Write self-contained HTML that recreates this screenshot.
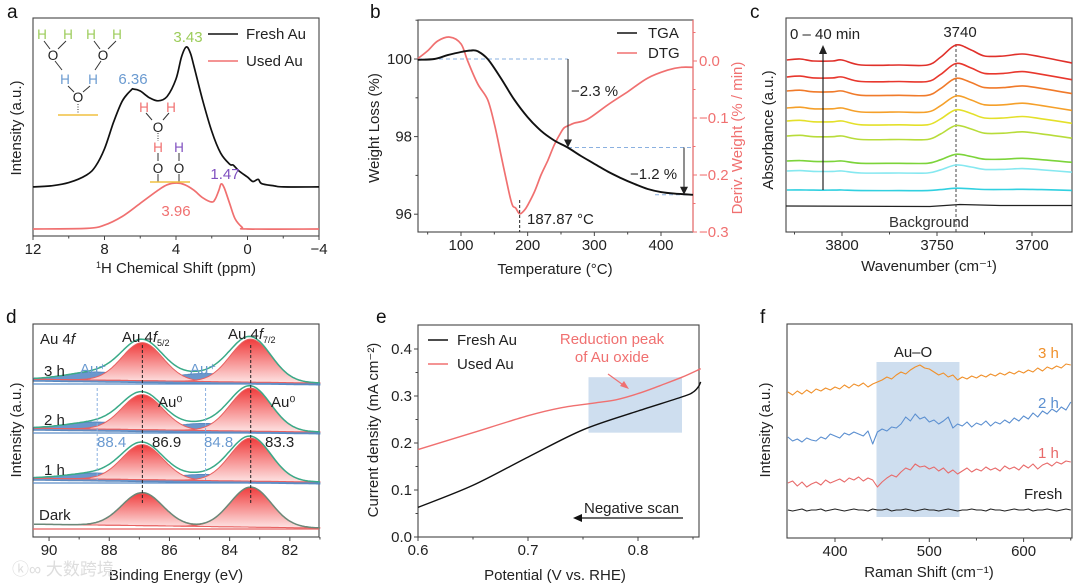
<!DOCTYPE html>
<html><head><meta charset="utf-8"><style>
html,body{margin:0;padding:0;background:#fff;}
svg{display:block;font-family:"Liberation Sans","Noto Sans CJK SC",sans-serif;}
</style></head><body>
<svg id="fig" width="1080" height="587" viewBox="0 0 1080 587" xmlns="http://www.w3.org/2000/svg">
<defs>
<linearGradient id="redgrad" x1="0" y1="0" x2="0" y2="1"><stop offset="0" stop-color="#f03c3c"/><stop offset="1" stop-color="#fde4e4"/></linearGradient>
</defs>
<rect width="1080" height="587" fill="#fff"/>
<g font-size="19" fill="#111">
<text x="7" y="18">a</text>
<text x="370" y="18">b</text>
<text x="750" y="18">c</text>
<text x="6" y="323">d</text>
<text x="376" y="323">e</text>
<text x="760" y="323">f</text>
</g>
<g font-size="15" fill="#222" text-anchor="middle">
<text x="176" y="273"><tspan font-size="9" dy="-5">1</tspan><tspan dy="5">H Chemical Shift (ppm)</tspan></text>
<text transform="translate(21,128) rotate(-90)">Intensity (a.u.)</text>
<text x="555" y="274">Temperature (°C)</text>
<text transform="translate(379,128) rotate(-90)">Weight Loss (%)</text>
<text transform="translate(742,138) rotate(-90)" fill="#f07070">Deriv. Weight (% / min)</text>
<text x="929" y="271">Wavenumber (cm⁻¹)</text>
<text transform="translate(773,130) rotate(-90)">Absorbance (a.u.)</text>
<text x="176" y="580">Binding Energy (eV)</text>
<text transform="translate(21,430) rotate(-90)">Intensity (a.u.)</text>
<text x="555" y="580">Potential (V vs. RHE)</text>
<text transform="translate(378,430) rotate(-90)">Current density (mA cm⁻²)</text>
<text x="929" y="577">Raman Shift (cm⁻¹)</text>
<text transform="translate(770,430) rotate(-90)">Intensity (a.u.)</text>
</g>
<g id="plots"></g>
<g font-size="15">
<line x1="208" y1="34" x2="238" y2="34" stroke="#111" stroke-width="1.6"/>
<text x="246" y="39" fill="#222">Fresh Au</text>
<line x1="208" y1="61" x2="238" y2="61" stroke="#f07070" stroke-width="1.6"/>
<text x="246" y="66" fill="#222">Used Au</text>
<text x="188" y="42" fill="#9ccc5a" text-anchor="middle">3.43</text>
<text x="133" y="84" fill="#6a9ad0" text-anchor="middle">6.36</text>
<text x="176" y="216" fill="#f07070" text-anchor="middle">3.96</text>
<text x="225" y="179" fill="#8050c0" text-anchor="middle">1.47</text>
</g>
<g font-size="13.5" text-anchor="middle">
<g stroke="#333" stroke-width="1">
<line x1="44" y1="41" x2="50" y2="49"/><line x1="66" y1="41" x2="58" y2="49"/>
<line x1="94" y1="41" x2="100" y2="49"/><line x1="116" y1="41" x2="108" y2="49"/>
<line x1="55" y1="61" x2="62" y2="70"/><line x1="101" y1="61" x2="95" y2="70"/>
<line x1="68" y1="86" x2="74" y2="92"/><line x1="90" y1="86" x2="83" y2="92"/>
<line x1="78" y1="104" x2="78" y2="113" stroke-dasharray="1,1.5"/>
</g>
<line x1="58" y1="115" x2="98" y2="115" stroke="#f0c040" stroke-width="1.5"/>
<text x="42" y="39" fill="#9ccc5a">H</text><text x="68" y="39" fill="#9ccc5a">H</text>
<text x="91" y="39" fill="#9ccc5a">H</text><text x="117" y="39" fill="#9ccc5a">H</text>
<text x="53" y="60" fill="#222">O</text><text x="103" y="60" fill="#222">O</text>
<text x="65" y="84" fill="#6a9ad0">H</text><text x="93" y="84" fill="#6a9ad0">H</text>
<text x="78" y="102" fill="#222">O</text>
</g>
<g font-size="13.5" text-anchor="middle">
<g stroke="#333" stroke-width="1">
<line x1="146" y1="113" x2="152" y2="120"/><line x1="169" y1="113" x2="163" y2="120"/>
<line x1="158" y1="133" x2="158" y2="141" stroke-dasharray="1,1.5"/>
<line x1="158" y1="153" x2="158" y2="161"/><line x1="179" y1="153" x2="179" y2="161"/>
<line x1="158" y1="174" x2="158" y2="182"/><line x1="179" y1="174" x2="179" y2="182"/>
</g>
<line x1="150" y1="182" x2="190" y2="182" stroke="#f0c040" stroke-width="1.5"/>
<text x="144" y="112" fill="#f07070">H</text><text x="171" y="112" fill="#f07070">H</text>
<text x="158" y="132" fill="#222">O</text>
<text x="158" y="152" fill="#f07070">H</text><text x="179" y="152" fill="#8050c0">H</text>
<text x="158" y="173" fill="#222">O</text><text x="179" y="173" fill="#222">O</text>
</g>
<g font-size="15" fill="#222">
<line x1="617" y1="33" x2="637" y2="33" stroke="#111" stroke-width="1.6"/>
<text x="648" y="38">TGA</text>
<line x1="617" y1="53" x2="637" y2="53" stroke="#f07070" stroke-width="1.6"/>
<text x="648" y="58">DTG</text>
<text x="571" y="96">−2.3 %</text>
<text x="630" y="179">−1.2 %</text>
<text x="527" y="224">187.87 °C</text>
</g>
<g font-size="15" fill="#222">
<text x="790" y="39">0 – 40 min</text>
<text x="960" y="37" text-anchor="middle">3740</text>
<text x="929" y="227" text-anchor="middle" fill="#333">Background</text>
</g>
<g font-size="15" fill="#222">
<text x="40" y="344">Au 4<tspan font-style="italic">f</tspan></text>
<text x="122" y="342">Au 4<tspan font-style="italic">f</tspan><tspan font-size="9" dy="4">5/2</tspan></text>
<text x="228" y="339">Au 4<tspan font-style="italic">f</tspan><tspan font-size="9" dy="4">7/2</tspan></text>
<text x="44" y="376">3 h</text>
<text x="44" y="425">2 h</text>
<text x="44" y="475">1 h</text>
<text x="39" y="520">Dark</text>
<text x="80" y="374" fill="#6a9ad0">Au⁺</text>
<text x="190" y="374" fill="#6a9ad0">Au⁺</text>
<text x="158" y="407">Au⁰</text>
<text x="271" y="407">Au⁰</text>
<text x="97" y="447" fill="#6a9ad0">88.4</text>
<text x="152" y="447">86.9</text>
<text x="204" y="447" fill="#6a9ad0">84.8</text>
<text x="265" y="447">83.3</text>
</g>
<text x="12" y="575" font-size="17" fill="#ddd">ⓚ∞ 大数跨境</text>
<g font-size="15" fill="#222">
<line x1="428" y1="340" x2="448" y2="340" stroke="#111" stroke-width="1.4"/>
<text x="457" y="345">Fresh Au</text>
<line x1="428" y1="364" x2="448" y2="364" stroke="#f07070" stroke-width="1.4"/>
<text x="457" y="369">Used Au</text>
<text x="612" y="344" fill="#f07070" text-anchor="middle">Reduction peak</text>
<text x="612" y="362" fill="#f07070" text-anchor="middle">of Au oxide</text>
<line x1="608" y1="374" x2="626" y2="387" stroke="#f07070" stroke-width="1.2"/>
<polygon points="629,389 620,386 624,381" fill="#f07070"/>
<text x="584" y="513">Negative scan</text>
<line x1="683" y1="518" x2="580" y2="518" stroke="#111" stroke-width="1.2"/>
<polygon points="573,518 582,514 582,522" fill="#111"/>
</g>
<g font-size="15">
<text x="913" y="357" fill="#222" text-anchor="middle">Au–O</text>
<text x="1038" y="358" fill="#f0902a">3 h</text>
<text x="1038" y="408" fill="#5b8fd0">2 h</text>
<text x="1038" y="458" fill="#e86a6a">1 h</text>
<text x="1024" y="499" fill="#222">Fresh</text>
</g>
</svg>
<script>
// ---------- panel a data ----------
const aFreshPpm = [12,11,10,9,8.5,8,7.5,7,6.5,6.36,6,5.5,5,4.5,4,3.7,3.43,3.2,3,2.5,2,1.5,1,0.8,0.5,0,-0.3,-0.6,-0.8,-1.5,-2,-4];
const aFreshInt = [22.5,23,24.5,28,32,40,52,62,67,67.4,66.5,63.5,62,64,72,82,86.7,84,78,62,48,38,33,32.5,30,27,25,26,24,23,22.5,22.5];
const aUsedPpm = [12,9,8,7,6,5,4.5,3.96,3.5,3,2.5,2,1.8,1.6,1.47,1.3,1,0.7,0.3,0,-4];
const aUsedInt = [3.2,3.5,5,9,15,21,23.5,24.3,23.5,21,17.5,15.6,17,21,23.9,22,15,8,4,3.2,3.2];
const aTicks = [12,8,4,0,-4];
// ---------- panel b data ----------
const bTgaT = [35,60,80,100,115,125,140,160,180,200,220,240,260,280,300,320,340,360,380,400,420,448];
const bTgaW = [99.98,100.0,100.1,100.18,100.22,100.2,100.0,99.5,98.95,98.5,98.15,97.9,97.72,97.5,97.3,97.1,96.93,96.78,96.65,96.57,96.53,96.5];
const bDtgT = [35,50,65,83,100,110,125,140,150,160,170,175,178,182,188,195,200,210,220,230,240,250,255,262,270,290,320,350,380,410,430,448];
const bDtgD = [0.004,0.018,0.035,0.042,0.03,0.0,-0.04,-0.068,-0.11,-0.165,-0.22,-0.245,-0.255,-0.258,-0.268,-0.262,-0.253,-0.23,-0.2,-0.175,-0.147,-0.125,-0.117,-0.113,-0.109,-0.102,-0.077,-0.054,-0.03,-0.016,-0.011,-0.011];
const bXTicks = [100,200,300,400];
const bYTicks = [96,98,100];
const bRTicks = [0.0,-0.1,-0.2,-0.3];
// ---------- panel c data ----------
const cWave = [3829,3822,3815,3805,3800,3790,3770,3755,3748,3740,3732,3725,3715,3705,3695,3679];
const cShape = [0,1,-1,-1,0,-5,-5,-5,3,15,10,4,4,6,3,-3];
const cOffsets = [172,155,141,124,111,96,71,61,42];
const cAmps = [1.0,0.9,0.85,0.8,0.75,0.7,0.45,0.4,0.12];
const cColors = ['#e0302a','#e8372d','#f07a2a','#f5a02a','#e4e02a','#b8dc3a','#7cd43a','#86e8f0','#30d0e0'];
const cXTicks = [3800,3750,3700];
// ---------- panel d data ----------
const dAu0Centers = [86.9,83.3];
const dAuPlusCenters = [88.4,84.8];
const dOffsets = [154,105,55,9];
const dAmp52 = [38,35,35,33];
const dAmp72 = [43,43,43,40];
const dAmpPlus = [8,7,6,0];
const dXTicks = [90,88,86,84,82];
// ---------- panel e data ----------
const eFreshV = [0.6,0.65,0.7,0.75,0.8,0.84,0.85,0.855,0.857];
const eFreshJ = [0.063,0.11,0.17,0.228,0.268,0.298,0.308,0.32,0.33];
const eUsedV = [0.6,0.65,0.7,0.73,0.76,0.78,0.8,0.82,0.84,0.857];
const eUsedJ = [0.186,0.222,0.258,0.275,0.285,0.292,0.305,0.322,0.34,0.358];
const eBox = [0.755,0.84,0.222,0.34];
const eXTicks = [0.6,0.7,0.8];
const eYTicks = [0.0,0.1,0.2,0.3,0.4];
// ---------- panel f data ----------
const fShiftStart = 350, fShiftStep = 5;
const fFresh = [28,27,28,29,27,28,28,29,27,28,29,28,27,28,29,28,28,27,29,28,28,29,27,28,28,29,28,27,28,29,28,28,27,28,29,28,27,28,28,29,28,28,27,29,28,28,27,28,29,28,28,29,27,28,28,29,28,27,28,29,28];
const f1h = [55,57,52,56,51,54,56,53,58,55,57,59,56,60,58,61,57,60,58,51,56,60,63,61,66,70,68,74,71,72,69,71,67,70,65,68,64,67,70,66,69,67,71,68,70,67,72,69,71,68,73,70,74,69,73,75,72,76,74,77,76];
const f2h = [101,97,99,96,100,98,97,101,99,104,102,100,105,103,106,104,102,107,94,106,109,107,111,110,114,121,117,124,119,121,116,118,114,117,121,110,114,112,116,111,115,113,117,112,116,114,118,115,120,117,122,119,125,121,127,124,129,126,131,128,136];
const f3h = [146,143,147,144,148,145,149,147,150,148,151,149,153,150,154,152,155,151,154,156,158,161,159,163,166,164,168,171,173,170,169,166,163,165,161,163,158,161,159,162,160,163,161,164,162,165,163,166,164,167,165,168,166,170,167,171,169,172,170,174,173];
const fBox = [444,532,21,176];
const fXTicks = [400,500,600];

const NS = 'http://www.w3.org/2000/svg';
const root = document.getElementById('plots');
const FS = 15;
function mk(tag, attrs, parent){
  const el = document.createElementNS(NS, tag);
  for (const k in attrs) el.setAttribute(k, attrs[k]);
  (parent||root).appendChild(el);
  return el;
}
function pathFrom(xs, ys, sx, sy){
  return xs.map((x,i)=>(i?'L':'M')+sx(x).toFixed(1)+','+sy(ys[i]).toFixed(1)).join(' ');
}
function smoothFrom(xs, ys, sx, sy){
  const P = xs.map((x,i)=>[sx(x), sy(ys[i])]);
  let d = 'M'+P[0][0].toFixed(1)+','+P[0][1].toFixed(1);
  for (let i=0;i<P.length-1;i++){
    const p0=P[Math.max(0,i-1)], p1=P[i], p2=P[i+1], p3=P[Math.min(P.length-1,i+2)];
    const c1=[p1[0]+(p2[0]-p0[0])/6, p1[1]+(p2[1]-p0[1])/6];
    const c2=[p2[0]-(p3[0]-p1[0])/6, p2[1]-(p3[1]-p1[1])/6];
    d += ' C'+c1[0].toFixed(1)+','+c1[1].toFixed(1)+' '+c2[0].toFixed(1)+','+c2[1].toFixed(1)+' '+p2[0].toFixed(1)+','+p2[1].toFixed(1);
  }
  return d;
}
function frame(x0,y0,x1,y1,n){
  const r = mk('rect',{x:x0,y:y0,width:x1-x0,height:y1-y0,fill:'none',stroke:'#444','stroke-width':1.1});
  
  
}
function xTicks(vals, sx, y, fmt, n, minors){
  vals.forEach(v=>{
    const t = mk('line',{x1:sx(v),x2:sx(v),y1:y,y2:y+4,stroke:'#444','stroke-width':1});
    
    
    const l = mk('text',{x:sx(v),y:y+18,'text-anchor':'middle','font-size':FS,fill:'#222'});
    l.textContent = fmt(v);
    
    
  });
  (minors||[]).forEach(v=>{
    const t = mk('line',{x1:sx(v),x2:sx(v),y1:y,y2:y+2.5,stroke:'#444','stroke-width':1});
    
    
  });
}
function yTicks(vals, sy, x, fmt, n, minors, side, color){
  const d = side==='r'?1:-1;
  vals.forEach(v=>{
    const t = mk('line',{x1:x,x2:x+4*d,y1:sy(v),y2:sy(v),stroke:color||'#444','stroke-width':1});
    
    
    const l = mk('text',{x:x+6*d,y:sy(v)+5,'text-anchor':side==='r'?'start':'end','font-size':FS,fill:color||'#222'});
    l.textContent = fmt(v);
    
    
  });
  (minors||[]).forEach(v=>{
    const t = mk('line',{x1:x,x2:x+2.5*d,y1:sy(v),y2:sy(v),stroke:color||'#444','stroke-width':1});
    
    
  });
}
const neg = v => (v<0?'−'+Math.abs(v):String(v));

// ===== Panel a =====
const xA = p => 33 + (12-p)*17.875;
const yA = v => 236 - v*2.18;
frame(33,18,319,236,'frame-a');
xTicks(aTicks, xA, 236, neg, 'x-axis-a', [10,6,2,-2]);
let p = mk('path',{d:smoothFrom(aFreshPpm,aFreshInt,xA,yA),fill:'none',stroke:'#111','stroke-width':1.7,'stroke-linejoin':'round'});


p = mk('path',{d:smoothFrom(aUsedPpm,aUsedInt,xA,yA),fill:'none',stroke:'#f07070','stroke-width':1.7,'stroke-linejoin':'round'});



// ===== Panel b =====
const xB = T => 461 + (T-100)*0.6667;
const yB = w => 59 + (100-w)*38.8;
const yR = d => 61 - d*570;
frame(418,20,693,232,'frame-b');
let rl = mk('line',{x1:693,x2:693,y1:20,y2:232,stroke:'#f07070','stroke-width':1.2});


xTicks(bXTicks, xB, 232, String, 'x-axis-b', [50,150,250,350]);
yTicks(bYTicks, yB, 418, String, 'y-axis-b', [97,99,101]);
yTicks(bRTicks, yR, 693, v=>(v<0?'−':'')+Math.abs(v).toFixed(1), 'y-axis-b-right', [0.05,-0.05,-0.15,-0.25], 'r', '#f07070');
const dashB = [[418,568,yB(100)],[568,693,yB(97.72)],[655,693,yB(96.5)]];
dashB.forEach(s=>{
  const l = mk('line',{x1:s[0],x2:s[1],y1:s[2],y2:s[2],stroke:'#8ab0e0','stroke-width':1,'stroke-dasharray':'4,3'});
  
  
});
p = mk('path',{d:smoothFrom(bDtgT,bDtgD,xB,yR),fill:'none',stroke:'#f07070','stroke-width':1.7,'stroke-linejoin':'round'});


p = mk('path',{d:smoothFrom(bTgaT,bTgaW,xB,yB),fill:'none',stroke:'#111','stroke-width':1.9,'stroke-linejoin':'round'});


[[568,yB(100),yB(97.72)],[684,yB(97.72),yB(96.5)]].forEach(a=>{
  const l = mk('line',{x1:a[0],x2:a[0],y1:a[1],y2:a[2]-6,stroke:'#333','stroke-width':1.1});
  
  
  const h = mk('polygon',{points:`${a[0]},${a[2]} ${a[0]-4},${a[2]-8} ${a[0]+4},${a[2]-8}`,fill:'#222'});
  
  
});
let vl = mk('line',{x1:xB(188),x2:xB(188),y1:200,y2:232,stroke:'#222','stroke-width':1,'stroke-dasharray':'3,2'});



// ===== Panel c =====
const xC = w => 842 + (3800-w)*1.9;
const yC = v => 232 - v;
frame(786,18,1072,232,'frame-c');
xTicks(cXTicks, xC, 232, String, 'x-axis-c', [3825,3775,3725]);
let bl = mk('path',{d:'M786,206 L930,206.5 L960,204.5 L1000,205.5 L1072,205.5',fill:'none',stroke:'#222','stroke-width':1.2});


let dl = mk('line',{x1:xC(3740),x2:xC(3740),y1:44,y2:232,stroke:'#444','stroke-width':1,'stroke-dasharray':'3,2'});


cOffsets.forEach((off,i)=>{
  const ys = cShape.map(s=>off + s*cAmps[i]);
  const sp = mk('path',{d:smoothFrom(cWave,ys,xC,yC),fill:'none',stroke:cColors[i],'stroke-width':1.6,'stroke-linejoin':'round'});
  
  
});
let ar = mk('line',{x1:823,x2:823,y1:190,y2:52,stroke:'#222','stroke-width':1.2});


let ah = mk('polygon',{points:'823,45 819,54 827,54',fill:'#222'});



// ===== Panel d =====
const xD = e => 34 + (90.5-e)*30.1;
const yD = v => 537 - v;
frame(33,324,319,537,'frame-d');
xTicks(dXTicks, xD, 537, String, 'x-axis-d', [89,87,85,83,81]);
const SIG = 0.68;
const g = (e,c,s) => Math.exp(-0.5*((e-c)/s)**2);
const es = []; for(let e=90.5;e>=81;e-=0.05) es.push(+e.toFixed(2));
dOffsets.forEach((off,i)=>{
  const bg = e => (e-81)*0.4;
  const plus = es.map(e=>dAmpPlus[i]*(g(e,dAuPlusCenters[0],1.0)+g(e,dAuPlusCenters[1],1.0)));
  if (dAmpPlus[i]>0){
    let d = 'M'+es.map((e,k)=>xD(e).toFixed(1)+','+yD(off+bg(e)+plus[k]).toFixed(1)).join(' L');
    d += ' L'+es.slice().reverse().map(e=>xD(e).toFixed(1)+','+yD(off+bg(e)-2).toFixed(1)).join(' L')+' Z';
    const f = mk('path',{d:d,fill:'#5a8cc8',stroke:'#4a7cb8','stroke-width':1,opacity:0.9});
    
    
  }
  [dAmp52[i],dAmp72[i]].forEach((amp,j)=>{
    const pk = es.map(e=>amp*g(e,dAu0Centers[j],SIG));
    let d = 'M'+es.map((e,k)=>xD(e).toFixed(1)+','+yD(off+bg(e)+pk[k]).toFixed(1)).join(' L');
    d += ' L'+es.slice().reverse().map(e=>xD(e).toFixed(1)+','+yD(off+bg(e)).toFixed(1)).join(' L')+' Z';
    const f = mk('path',{d:d,fill:'url(#redgrad)',stroke:'#e86060','stroke-width':1});
    
    
  });
  const env = es.map((e,k)=>off+bg(e)+plus[k]+dAmp52[i]*g(e,dAu0Centers[0],SIG)+dAmp72[i]*g(e,dAu0Centers[1],SIG));
  const ev = mk('path',{d:pathFrom(es,env,xD,yD),fill:'none',stroke:i===3?'#6a8878':'#3aaa88','stroke-width':1.5});
  
  
  const base = mk('line',{x1:33,x2:319,y1:yD(off-1),y2:yD(off-1),stroke:i===3?'#e86060':'#5a8cc8','stroke-width':1.2});
  
  
});
dAu0Centers.forEach((c,j)=>{
  const l = mk('line',{x1:xD(c),x2:xD(c),y1:345,y2:505,stroke:'#222','stroke-width':1,'stroke-dasharray':'3,2'});
  
  
});
dAuPlusCenters.forEach((c,j)=>{
  const l = mk('line',{x1:xD(c),x2:xD(c),y1:388,y2:480,stroke:'#8ab0e0','stroke-width':1,'stroke-dasharray':'3,2'});
  
  
});

// ===== Panel e =====
const xE = v => 418 + (v-0.6)*1100;
const yE = j => 537 - j*470;
const br = mk('rect',{x:xE(eBox[0]),y:yE(eBox[3]),width:xE(eBox[1])-xE(eBox[0]),height:yE(eBox[2])-yE(eBox[3]),fill:'#c6d8ec',opacity:0.85});


frame(418,325,699,537,'frame-e');
xTicks(eXTicks, xE, 537, v=>v.toFixed(1), 'x-axis-e', [0.65,0.75,0.85]);
yTicks(eYTicks, yE, 418, v=>v.toFixed(1), 'y-axis-e', [0.05,0.15,0.25,0.35]);
p = mk('path',{d:smoothFrom(eUsedV,eUsedJ,xE,yE),fill:'none',stroke:'#f07070','stroke-width':1.4});


p = mk('path',{d:smoothFrom(eFreshV,eFreshJ,xE,yE),fill:'none',stroke:'#111','stroke-width':1.4});



// ===== Panel f =====
const xF = r => 835 + (r-400)*0.943;
const yF = v => 538 - v;
const fr = mk('rect',{x:xF(fBox[0]),y:yF(fBox[3]),width:xF(fBox[1])-xF(fBox[0]),height:yF(fBox[2])-yF(fBox[3]),fill:'#c6d8ec',opacity:0.85});


frame(787,324,1072,538,'frame-f');
xTicks(fXTicks, xF, 538, String, 'x-axis-f', [450,550,650]);
const fShift = fFresh.map((_,i)=>fShiftStart+i*fShiftStep);
[[fFresh,'#222','raman-fresh'],[f1h,'#e86a6a','raman-1h'],[f2h,'#5b8fd0','raman-2h'],[f3h,'#f0902a','raman-3h']].forEach(s=>{
  const rp = mk('path',{d:pathFrom(fShift,s[0],xF,yF),fill:'none',stroke:s[1],'stroke-width':1.1,'stroke-linejoin':'round'});
  
  
});
</script>
</body></html>
